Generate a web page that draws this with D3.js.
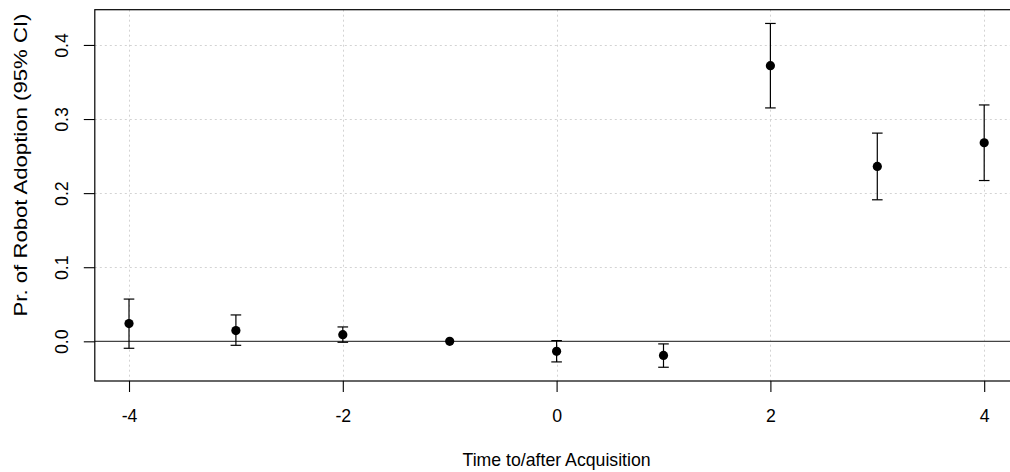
<!DOCTYPE html>
<html>
<head>
<meta charset="utf-8">
<script src="https://cdn.jsdelivr.net/npm/d3@7"></script>
<style>
  html, body { margin: 0; padding: 0; background: #fff; }
  svg { display: block; font-family: "Liberation Sans", Arial, Helvetica, sans-serif; }
</style>
</head>
<body>
<svg id="chart" width="1010" height="472"></svg>
<script>
// Event-study estimates: years relative to acquisition
const period = [-4, -3, -2, -1, 0, 1, 2, 3, 4];
const estimate = [0.024, 0.0145, 0.009, 0, -0.0135, -0.019, 0.372, 0.236, 0.268];
const ciLower = [-0.0094, -0.0054, -0.0013, 0, -0.0278, -0.035, 0.315, 0.191, 0.217];
const ciUpper = [0.057, 0.0356, 0.0194, 0, 0.001, -0.0035, 0.429, 0.281, 0.319];

const xTicks = [-4, -2, 0, 2, 4];
const yTicks = [0.0, 0.1, 0.2, 0.3, 0.4];
const xTitle = "Time to/after Acquisition";
const yTitle = "Pr. of Robot Adoption (95% CI)";

const rows = period.map((p, i) => ({ p, est: estimate[i], lo: ciLower[i], hi: ciUpper[i] }));

const svg = d3.select("#chart");
const fontSize = 17.7;

// Plot region (base-graphics style, 4% padding around the data range)
const plotL = 94.8, plotR = 1018.4, plotT = 9.7, plotB = 381;
const pad = (lo, hi) => { const d = (hi - lo) * 0.04; return [lo - d, hi + d]; };

const x = d3.scaleLinear()
  .domain(pad(d3.min(period), d3.max(period)))
  .range([plotL, plotR]);
const y = d3.scaleLinear()
  .domain(pad(d3.min(ciLower), d3.max(ciUpper)))
  .range([plotB, plotT]);

// dotted grid
const grid = svg.append("g").attr("stroke", "#d3d3d3").attr("stroke-width", 1)
  .attr("stroke-dasharray", "2,3");
grid.selectAll("line.v").data(xTicks).join("line").attr("class", "v")
  .attr("x1", d => Math.round(x(d)) + 0.5).attr("x2", d => Math.round(x(d)) + 0.5)
  .attr("y1", plotT).attr("y2", plotB);
grid.selectAll("line.h").data(yTicks.filter(d => d !== 0)).join("line").attr("class", "h")
  .attr("y1", d => Math.round(y(d)) + 0.5).attr("y2", d => Math.round(y(d)) + 0.5)
  .attr("x1", plotL).attr("x2", plotR);

// reference line at zero
svg.append("line")
  .attr("x1", plotL).attr("x2", plotR)
  .attr("y1", y(0)).attr("y2", y(0))
  .attr("stroke", "#444").attr("stroke-width", 1.3);

// confidence intervals
const capHalf = 5.3;
const bars = svg.append("g").attr("stroke", "#000").attr("stroke-width", 1.2);
rows.filter(r => r.hi !== r.lo).forEach(r => {
  const cx = x(r.p);
  bars.append("line").attr("x1", cx).attr("x2", cx).attr("y1", y(r.lo)).attr("y2", y(r.hi));
  bars.append("line").attr("x1", cx - capHalf).attr("x2", cx + capHalf).attr("y1", y(r.lo)).attr("y2", y(r.lo));
  bars.append("line").attr("x1", cx - capHalf).attr("x2", cx + capHalf).attr("y1", y(r.hi)).attr("y2", y(r.hi));
});

// point estimates
svg.append("g").selectAll("circle").data(rows).join("circle")
  .attr("cx", d => x(d.p)).attr("cy", d => y(d.est)).attr("r", 4.6)
  .attr("fill", "#000");

// axes
const tickLen = 11;
const xAxis = svg.append("g").attr("transform", `translate(0,${plotB})`)
  .call(d3.axisBottom(x).tickValues(xTicks).tickSize(tickLen).tickFormat(d3.format("d")));
xAxis.select(".domain").remove();
xAxis.selectAll(".tick line").attr("stroke", "#000").attr("stroke-width", 1.1);
xAxis.selectAll(".tick text")
  .attr("y", 40.7).attr("dy", null)
  .attr("font-size", fontSize).attr("font-family", "Liberation Sans, Arial, sans-serif")
  .attr("fill", "#000")
  .text(d => String(d));

const yAxis = svg.append("g").attr("transform", `translate(${plotL},0)`)
  .call(d3.axisLeft(y).tickValues(yTicks).tickSize(tickLen).tickFormat(d3.format(".1f")));
yAxis.select(".domain").remove();
yAxis.selectAll(".tick line").attr("stroke", "#000").attr("stroke-width", 1.1);
yAxis.selectAll(".tick text")
  .attr("x", null).attr("dy", null)
  .attr("text-anchor", "middle")
  .attr("transform", `translate(${68.3 - plotL},0) rotate(-90)`)
  .attr("font-size", fontSize).attr("font-family", "Liberation Sans, Arial, sans-serif")
  .attr("fill", "#000");

// plot frame
svg.append("rect")
  .attr("x", plotL).attr("y", plotT)
  .attr("width", plotR - plotL).attr("height", plotB - plotT)
  .attr("fill", "none").attr("stroke", "#000").attr("stroke-width", 1.2);

// axis titles
svg.append("text")
  .attr("x", (plotL + plotR) / 2).attr("y", 465.7)
  .attr("text-anchor", "middle").attr("font-size", fontSize).attr("fill", "#000")
  .text(xTitle);

svg.append("text")
  .attr("transform", "translate(26.7,165) rotate(-90)")
  .attr("text-anchor", "middle").attr("font-size", 18.6).attr("fill", "#000")
  .attr("textLength", 303).attr("lengthAdjust", "spacingAndGlyphs")
  .text(yTitle);
</script>
</body>
</html>
